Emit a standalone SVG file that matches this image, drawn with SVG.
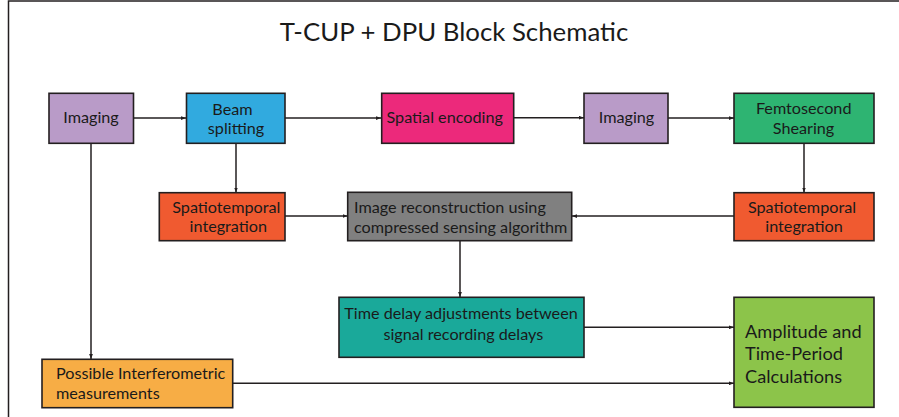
<svg xmlns="http://www.w3.org/2000/svg" width="899" height="417" viewBox="0 0 899 417">
<defs>
<marker id="ah" viewBox="0 0 8 6" refX="8" refY="3" markerWidth="5" markerHeight="4" orient="auto" markerUnits="userSpaceOnUse">
<path d="M0,0 L8,3 L0,6 Z" fill="#231f20"/>
</marker>
<style>
.b{stroke:#231f20;stroke-width:1.6}
.t{font-family:Lato,"Open Sans","Liberation Sans",sans-serif;font-size:16.2px;fill:#1a1a1a}
.c{stroke:#231f20;stroke-width:1.5;fill:none;marker-end:url(#ah)}
.m{text-anchor:middle}
.a{font-size:18.2px}
</style>
</defs>
<rect width="899" height="417" fill="#fff"/>
<path d="M8.5,417 V1 H899" fill="none" stroke="#231f20" stroke-width="1.5"/>
<text x="454" y="41" class="t m" style="font-size:25.8px">T-CUP + DPU Block Schematic</text>
<g id="connectors">
<line class="c" x1="134" y1="118" x2="186" y2="118"/>
<line class="c" x1="285" y1="118" x2="381" y2="118"/>
<line class="c" x1="514" y1="117.7" x2="584" y2="117.7"/>
<line class="c" x1="668" y1="118" x2="734" y2="118"/>
<line class="c" x1="236" y1="143" x2="236" y2="192.5"/>
<line class="c" x1="804" y1="143" x2="804" y2="192.5"/>
<line class="c" x1="285" y1="216" x2="347.5" y2="216"/>
<line class="c" x1="734" y1="216" x2="572" y2="216"/>
<line class="c" x1="460" y1="240.5" x2="460" y2="297"/>
<line class="c" x1="584" y1="327.3" x2="734" y2="327.3"/>
<line class="c" x1="91" y1="143" x2="91" y2="359"/>
<line class="c" x1="232.5" y1="383.3" x2="734" y2="383.3"/>
</g>
<g id="imaging1"><rect class="b" x="49" y="93.3" width="84.5" height="50" fill="#b99bc8"/><text class="t m" x="91" y="123">Imaging</text></g>
<g id="beam"><rect class="b" x="186.5" y="93.3" width="98.5" height="50" fill="#31aadf"/><text class="t m" x="232.5" y="114.5">Beam</text><text class="t m" x="236" y="134">splitting</text></g>
<g id="spatial"><rect class="b" x="381.7" y="93.3" width="132" height="50" fill="#ec297b"/><text class="t" x="386.5" y="123">Spatial encoding</text></g>
<g id="imaging2"><rect class="b" x="584" y="93.3" width="84" height="50" fill="#b99bc8"/><text class="t m" x="626.5" y="123">Imaging</text></g>
<g id="femto"><rect class="b" x="734" y="93.3" width="140" height="50" fill="#2eb472"/><text class="t m" x="803.7" y="114.3">Femtosecond</text><text class="t m" x="803.5" y="134.3">Shearing</text></g>
<g id="spatio1"><rect class="b" x="159.3" y="192.7" width="125.7" height="48" fill="#f05a30"/><text class="t m" x="226.3" y="213.3">Spatiotemporal</text><text class="t m" x="228.3" y="232.3">integration</text></g>
<g id="recon"><rect class="b" x="347.7" y="192.3" width="224" height="48.4" fill="#808080"/><text class="t" x="354" y="212.7">Image reconstruction using</text><text class="t" x="354" y="233.3">compressed sensing algorithm</text></g>
<g id="spatio2"><rect class="b" x="734" y="192.7" width="140" height="48" fill="#f05a30"/><text class="t m" x="802" y="213.3">Spatiotemporal</text><text class="t m" x="804" y="232.3">integration</text></g>
<g id="timedelay"><rect class="b" x="339" y="297.3" width="245" height="60" fill="#1aa99a"/><text class="t m" x="461" y="319.3">Time delay adjustments between</text><text class="t m" x="463.3" y="339.5">signal recording delays</text></g>
<g id="amplitude"><rect class="b" x="734" y="297.3" width="140" height="110" fill="#8cc44a"/><text class="t a" x="745" y="337.7">Amplitude and</text><text class="t a" x="745" y="360">Time-Period</text><text class="t a" x="745" y="383.3">Calculations</text></g>
<g id="interfero"><rect class="b" x="42" y="359.3" width="190.7" height="48.4" fill="#f7ad45"/><text class="t" x="56" y="379">Possible Interferometric</text><text class="t" x="56" y="398.5">measurements</text></g>
</svg>
